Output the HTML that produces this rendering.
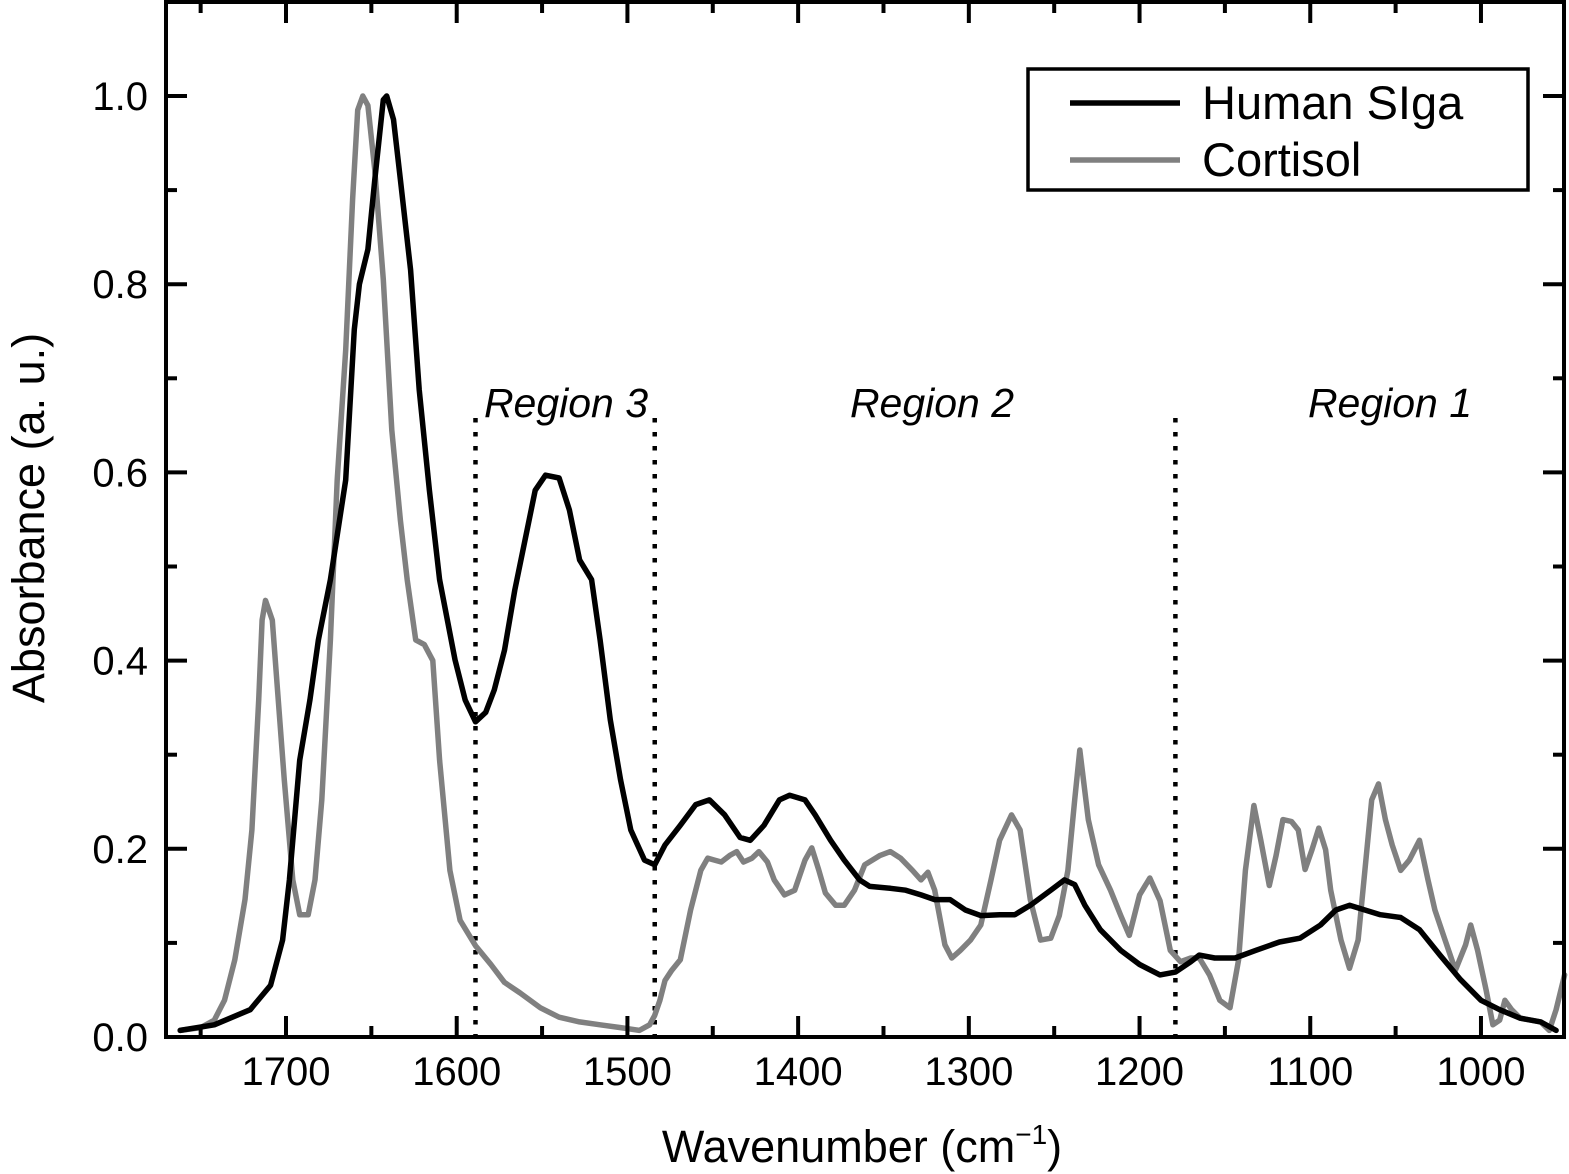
<!DOCTYPE html>
<html><head><meta charset="utf-8"><style>
body{margin:0;background:#fff}
svg{display:block;font-family:"Liberation Sans",Arial,sans-serif}
</style></head><body>
<svg id="chart" width="1569" height="1174" viewBox="0 0 1569 1174">
<g id="marks"></g>
<g id="axes"></g>
</svg>
<script>
const xTicks=[1700,1600,1500,1400,1300,1200,1100,1000];
const yTicks=[0.0,0.2,0.4,0.6,0.8,1.0];
const yTickLabels=["0.0","0.2","0.4","0.6","0.8","1.0"];
const regionBounds=[1589,1484,1179];
const igaW=[1762,1742,1721,1709,1702,1698,1692,1686,1681,1674,1665,1660,1657,1652,1648,1643,1641,1637,1633,1627,1622,1616,1610,1601,1595,1589,1583,1578,1572,1566,1560,1554,1548,1540,1534,1528,1521,1516,1510,1504,1498,1490,1484,1478,1469,1460,1452,1443,1434,1428,1420,1411,1405,1396,1390,1381,1373,1364,1358,1346,1337,1328,1320,1311,1302,1293,1282,1273,1264,1252,1244,1238,1232,1223,1211,1200,1188,1179,1170,1165,1156,1144,1132,1118,1106,1094,1085,1077,1068,1059,1047,1036,1024,1012,1000,989,977,965,956];
const igaV=[0.007,0.013,0.029,0.055,0.103,0.167,0.294,0.358,0.422,0.486,0.592,0.752,0.80,0.837,0.911,0.996,1.0,0.975,0.911,0.815,0.688,0.581,0.486,0.401,0.358,0.335,0.345,0.369,0.411,0.475,0.528,0.581,0.597,0.594,0.56,0.507,0.486,0.422,0.337,0.273,0.22,0.188,0.183,0.204,0.225,0.247,0.252,0.236,0.212,0.209,0.225,0.252,0.257,0.252,0.236,0.209,0.188,0.167,0.16,0.158,0.156,0.151,0.146,0.146,0.135,0.129,0.13,0.13,0.14,0.156,0.167,0.162,0.14,0.114,0.092,0.077,0.066,0.069,0.08,0.087,0.084,0.084,0.092,0.101,0.105,0.119,0.135,0.14,0.135,0.13,0.127,0.114,0.087,0.061,0.039,0.029,0.02,0.016,0.007];
const corW=[1762,1750,1742,1736,1730,1724,1720,1716,1714,1712,1708,1705,1701,1696,1692,1687,1683,1679,1674,1670,1665,1661,1658,1655,1652,1648,1643,1638,1633,1629,1624,1619,1614,1610,1604,1598,1589,1580,1572,1563,1551,1540,1528,1516,1504,1493,1487,1484,1481,1478,1474,1469,1463,1457,1453,1449,1445,1440,1436,1432,1427,1423,1418,1414,1408,1402,1396,1392,1388,1384,1378,1373,1367,1361,1352,1346,1340,1333,1328,1324,1320,1314,1310,1305,1299,1293,1287,1282,1275,1270,1264,1258,1252,1247,1242,1238,1235,1230,1224,1217,1211,1206,1200,1194,1188,1182,1176,1170,1165,1159,1153,1147,1142,1138,1133,1129,1124,1120,1116,1111,1107,1103,1099,1095,1091,1088,1082,1077,1072,1068,1064,1060,1056,1052,1047,1042,1036,1031,1027,1021,1015,1009,1006,1002,997,993,989,986,982,977,971,965,960,956,951];
const corV=[0.007,0.01,0.018,0.039,0.082,0.146,0.22,0.358,0.443,0.464,0.443,0.369,0.273,0.167,0.13,0.13,0.167,0.252,0.422,0.592,0.73,0.89,0.985,1.0,0.99,0.921,0.805,0.645,0.549,0.486,0.422,0.417,0.4,0.294,0.177,0.124,0.097,0.077,0.058,0.047,0.031,0.021,0.016,0.013,0.01,0.007,0.013,0.023,0.039,0.06,0.071,0.082,0.135,0.177,0.19,0.188,0.186,0.193,0.197,0.186,0.19,0.197,0.186,0.167,0.151,0.156,0.188,0.201,0.178,0.153,0.14,0.14,0.156,0.183,0.193,0.197,0.19,0.177,0.167,0.175,0.156,0.098,0.084,0.092,0.103,0.119,0.167,0.209,0.236,0.22,0.146,0.103,0.105,0.129,0.177,0.252,0.305,0.231,0.183,0.156,0.129,0.108,0.151,0.169,0.145,0.092,0.08,0.084,0.084,0.066,0.039,0.031,0.082,0.177,0.246,0.209,0.161,0.193,0.231,0.229,0.22,0.178,0.199,0.222,0.199,0.156,0.103,0.073,0.103,0.177,0.252,0.269,0.231,0.204,0.177,0.188,0.209,0.167,0.135,0.103,0.071,0.098,0.119,0.092,0.05,0.013,0.018,0.039,0.029,0.02,0.018,0.016,0.007,0.029,0.066];

const L=166,R=1564,T=2,B=1037;
const X=w=>286+(1700-w)*1.7071;
const Y=v=>1037-v*941;
const NS='http://www.w3.org/2000/svg';
const marks=document.getElementById('marks'), axes=document.getElementById('axes');
function mk(tag,attrs,parent){const e=document.createElementNS(NS,tag);for(const k in attrs)e.setAttribute(k,attrs[k]);parent.appendChild(e);return e;}

regionBounds.forEach(w=>{
  const l=mk('line',{x1:X(w),x2:X(w),y1:418,y2:B,stroke:'#000','stroke-width':4.5,'stroke-dasharray':'4.5 9.5'},marks);
  
  
});
function series(ws,vs,color,name){
  const d=ws.map((w,i)=>(i?'L':'M')+X(w).toFixed(1)+' '+Y(vs[i]).toFixed(1)).join(' ');
  const p=mk('path',{d:d,fill:'none',stroke:color,'stroke-width':5.5,'stroke-linejoin':'round','stroke-linecap':'round'},marks);
  
  
}
series(corW,corV,'#808080','cortisol-line');
series(igaW,igaV,'#000','human-siga-line');

const fr=mk('rect',{x:L,y:T,width:R-L,height:B-T,fill:'none',stroke:'#000','stroke-width':4},axes);


for(let w=1750;w>=951;w-=50){
  const major=w%100===0, len=major?21:11, x=X(w);
  mk('line',{x1:x,x2:x,y1:B,y2:B-len,stroke:'#000','stroke-width':4},axes);
  mk('line',{x1:x,x2:x,y1:T,y2:T+len,stroke:'#000','stroke-width':4},axes);
}
xTicks.forEach(w=>{
  const t=mk('text',{x:X(w),y:1085,'text-anchor':'middle','font-size':40},axes);
  t.textContent=w;
  
  
});
for(let i=0;i<=10;i++){
  const v=i/10, major=i%2===0, len=major?21:11, y=Y(v);
  mk('line',{x1:L,x2:L+len,y1:y,y2:y,stroke:'#000','stroke-width':4},axes);
  mk('line',{x1:R,x2:R-len,y1:y,y2:y,stroke:'#000','stroke-width':4},axes);
}
yTicks.forEach((v,i)=>{
  const t=mk('text',{x:148,y:Y(v)+14,'text-anchor':'end','font-size':40},axes);
  t.textContent=yTickLabels[i];
  
  
});
</script>
<svg style="position:absolute;left:0;top:0" width="1569" height="1174">
<g font-family="Liberation Sans, Arial, sans-serif">
<text x="862" y="1162" text-anchor="middle" font-size="45">Wavenumber (cm<tspan font-size="28" dy="-18">−1</tspan><tspan dy="18">)</tspan></text>
<text transform="translate(44,518) rotate(-90)" text-anchor="middle" font-size="45">Absorbance (a. u.)</text>
<text x="566" y="417" text-anchor="middle" font-size="41" font-style="italic">Region 3</text>
<text x="932" y="417" text-anchor="middle" font-size="41" font-style="italic">Region 2</text>
<text x="1390" y="417" text-anchor="middle" font-size="41" font-style="italic">Region 1</text>
<g>
<rect x="1028" y="69" width="500" height="121" fill="#fff" stroke="#000" stroke-width="3.5"/>
<line x1="1070" x2="1180" y1="103" y2="103" stroke="#000" stroke-width="5.5"/>
<line x1="1070" x2="1180" y1="160" y2="160" stroke="#808080" stroke-width="5.5"/>
<text x="1202" y="119" font-size="47">Human SIga</text>
<text x="1202" y="176" font-size="47">Cortisol</text>
</g>
</g>
</svg>
</body></html>
